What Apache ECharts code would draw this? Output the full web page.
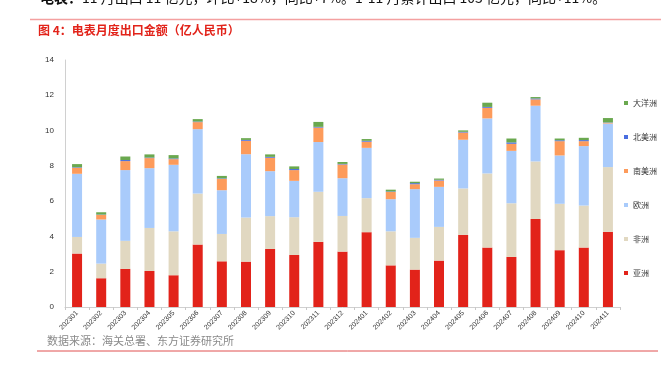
<!DOCTYPE html>
<html>
<head>
<meta charset="utf-8">
<script src="https://cdn.jsdelivr.net/npm/echarts@6/dist/echarts.min.js"></script>
<style>html,body{margin:0;padding:0;background:#fff;}#c{width:661px;height:367px;}</style>
</head>
<body>
<div id="c"></div>
<script>
const categories = ['202301','202302','202303','202304','202305','202306','202307','202308','202309','202310','202311','202312','202401','202402','202403','202404','202405','202406','202407','202408','202409','202410','202411'];
const asia     = [3.03,1.63,2.16,2.04,1.80,3.54,2.59,2.57,3.29,2.95,3.69,3.14,4.24,2.36,2.12,2.63,4.09,3.37,2.84,4.99,3.22,3.37,4.26];
const africa   = [0.94,0.83,1.59,2.44,2.49,2.89,1.55,2.50,1.86,2.14,2.84,2.02,1.93,1.93,1.80,1.91,2.63,4.20,3.04,3.26,2.63,2.38,3.67];
const europe   = [3.58,2.50,4.01,3.39,3.77,3.65,2.48,3.59,2.55,2.06,2.82,2.14,2.85,1.82,2.76,2.27,2.76,3.12,2.97,3.16,2.74,3.37,2.47];
const samerica = [0.34,0.26,0.51,0.57,0.32,0.40,0.64,0.76,0.76,0.61,0.82,0.78,0.35,0.41,0.28,0.36,0.41,0.60,0.40,0.36,0.81,0.28,0.04];
const namerica = [0.03,0.02,0.06,0.03,0.04,0.03,0.03,0.05,0.05,0.06,0.04,0.03,0.05,0.03,0.06,0.04,0.04,0.05,0.08,0.05,0.05,0.06,0.02];
const oceania  = [0.18,0.13,0.20,0.18,0.19,0.14,0.14,0.10,0.14,0.15,0.28,0.11,0.10,0.10,0.08,0.07,0.08,0.24,0.22,0.08,0.10,0.13,0.25];
const yTicks = [0,2,4,6,8,10,12,14];

const names = ['亚洲','非洲','欧洲','南美洲','北美洲','大洋洲'];
const colors = ['#e2231a','#e1d8c1','#a9cbfb','#fd9b5b','#4a6ee0','#6aa84f'];
const datas = [asia, africa, europe, samerica, namerica, oceania];

const chart = echarts.init(document.getElementById('c'), null, {renderer:'canvas'});
const fontFam = '"Noto Sans CJK SC", "Liberation Sans", sans-serif';
chart.setOption({
  animation:false,
  textStyle:{fontFamily:fontFam},
  grid:{left:65, right:41, top:60, bottom:60},
  legend:{
    orient:'vertical', left:619, top:94,
    itemWidth:4, itemHeight:4, itemGap:26,
    icon:'rect',
    data:names.slice().reverse(),
    textStyle:{fontSize:8, color:'#333', lineHeight:8, fontFamily:fontFam}
  },
  xAxis:{
    type:'category', data:categories, boundaryGap:true,
    axisLine:{lineStyle:{color:'#d0d0d0', width:1}},
    axisTick:{show:true, length:3, lineStyle:{color:'#c8c8c8'}},
    axisLabel:{rotate:45, fontSize:7, color:'#333', margin:5, interval:0, fontFamily:'"Liberation Sans", sans-serif'}
  },
  yAxis:{
    type:'value', min:yTicks[0], max:yTicks[yTicks.length-1], interval:2,
    axisLine:{show:true, lineStyle:{color:'#d0d0d0'}},
    axisTick:{show:false},
    splitLine:{show:false},
    axisLabel:{fontSize:8, color:'#333', margin:11, fontFamily:'"Liberation Sans", sans-serif'}
  },
  series: names.map((n,i)=>({
    name:n, type:'bar', stack:'total', data:datas[i], barWidth:10,
    itemStyle:{color:colors[i]}
  })),
  graphic:[
    {type:'text', left:40, top:-9, style:{
      text:'{b|电表：}11 月出口 11 亿元，环比+18%，同比+7%。1-11 月累计出口 103 亿元，同比+11%。',
      font:'14px '+fontFam, fill:'#111',
      rich:{b:{font:'bold 14px '+fontFam, fill:'#111'}}
    }},
    {type:'line', shape:{x1:30, y1:19.5, x2:661, y2:19.5}, style:{stroke:'#f4a0a0', lineWidth:1.5}},
    {type:'text', left:38, top:24, style:{text:'图 4：电表月度出口金额（亿人民币）', font:'bold 12px '+fontFam, fill:'#e2231a'}},
    {type:'text', left:47, top:335, style:{text:'数据来源：海关总署、东方证券研究所', font:'11px '+fontFam, fill:'#8a8a8a'}},
    {type:'line', shape:{x1:37, y1:351, x2:658, y2:351}, style:{stroke:'#e05050', lineWidth:1}}
  ]
});
</script>
</body>
</html>
